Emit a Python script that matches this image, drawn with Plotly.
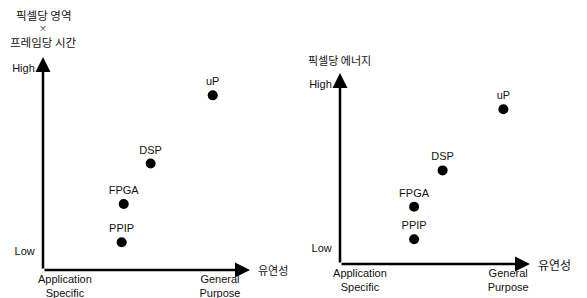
import plotly.graph_objects as go

devices = ["PPIP", "FPGA", "DSP", "uP"]
flex_left = [3.8, 3.9, 5.2, 8.2]
cost_left = [1.3, 3.1, 5.0, 8.2]
flex_right = [3.9, 3.9, 5.4, 8.6]
energy_right = [1.3, 3.0, 4.9, 8.1]

y_ticks_left = [0.9, 9.5]
y_ticks_right = [0.85, 9.4]
y_tick_text = ["Low", "High"]
x_ticks_left = [1.06, 8.55]
x_ticks_right = [1.05, 8.85]
x_tick_text = ["Application<br>Specific", "General<br>Purpose"]

title_left_lines = ["픽셀당 영역", "×", "프레임당 시간"]
title_right = "픽셀당 에너지"
x_title = "유연성"

W, H = 587, 298
FONT = "Liberation Sans, Arial, sans-serif"
KFONT = "Noto Sans CJK KR, sans-serif"

fig = go.Figure()
fig.add_trace(go.Scatter(x=flex_left, y=cost_left, mode="markers+text", text=devices,
                         textposition="top center", textfont=dict(size=11, color="#111", family=FONT),
                         marker=dict(size=10, color="black"), xaxis="x", yaxis="y",
                         cliponaxis=False, showlegend=False))
fig.add_trace(go.Scatter(x=flex_right, y=energy_right, mode="markers+text", text=devices,
                         textposition="top center", textfont=dict(size=11, color="#111", family=FONT),
                         marker=dict(size=10, color="black"), xaxis="x2", yaxis="y2",
                         cliponaxis=False, showlegend=False))

def px_x(p):
    return p / W

def px_y(p):
    return 1 - p / H

axis_common = dict(showgrid=False, zeroline=False, showline=False,
                   automargin=False,
                   tickfont=dict(size=11, color="#111", family=FONT), fixedrange=True)
xax = dict(ticks="", ticklabelstandoff=1, **axis_common)
yax = dict(ticks="outside", ticklen=5, tickcolor="rgba(0,0,0,0)", **axis_common)

fig.update_layout(
    width=W, height=H, margin=dict(l=0, r=0, t=0, b=0, autoexpand=False),
    paper_bgcolor="white", plot_bgcolor="white",
    xaxis=dict(domain=[px_x(43), px_x(250)], range=[0, 10], anchor="y",
               tickvals=x_ticks_left, ticktext=x_tick_text, **xax),
    yaxis=dict(domain=[px_y(270), px_y(57)], range=[0, 10], anchor="x",
               tickvals=y_ticks_left, ticktext=y_tick_text, **yax),
    xaxis2=dict(domain=[px_x(340), px_x(530)], range=[0, 10], anchor="y2",
                tickvals=x_ticks_right, ticktext=x_tick_text, **xax),
    yaxis2=dict(domain=[px_y(264), px_y(73)], range=[0, 10], anchor="x2",
                tickvals=y_ticks_right, ticktext=y_tick_text, **yax),
)

annotations = []
for xa, ya, fs in [("x", "y", 11), ("x2", "y2", 12)]:
    annotations.append(dict(x=10, y=0, ax=0, ay=0, xref=xa, yref=ya, axref=xa, ayref=ya,
                            text="", showarrow=True, arrowhead=2, arrowwidth=2.5,
                            arrowsize=1.2, arrowcolor="black", standoff=0, startstandoff=0))
    annotations.append(dict(x=0, y=10, ax=0, ay=0, xref=xa, yref=ya, axref=xa, ayref=ya,
                            text="", showarrow=True, arrowhead=2, arrowwidth=2.5,
                            arrowsize=1.2, arrowcolor="black", standoff=0, startstandoff=0))
    annotations.append(dict(x=10, y=0, xref=xa, yref=ya, text=x_title, showarrow=False,
                            xanchor="left", yanchor="middle", xshift=6,
                            font=dict(size=fs, color="#111", family=KFONT)))

for line, ypx, fs in zip(title_left_lines, [15, 28, 42], [11.5, 8, 11.5]):
    annotations.append(dict(x=px_x(43), y=px_y(ypx), xref="paper", yref="paper", text=line,
                            showarrow=False, xanchor="center", yanchor="middle",
                            font=dict(size=fs, color="#111", family=KFONT)))
annotations.append(dict(x=px_x(306), y=px_y(60), xref="paper", yref="paper", text=title_right,
                        showarrow=False, xanchor="left", yanchor="middle",
                        font=dict(size=11, color="#111", family=KFONT)))
fig.update_layout(annotations=annotations)

fig.write_html("out.html", config={"displayModeBar": False},
               post_script="document.body.style.margin='0';")
